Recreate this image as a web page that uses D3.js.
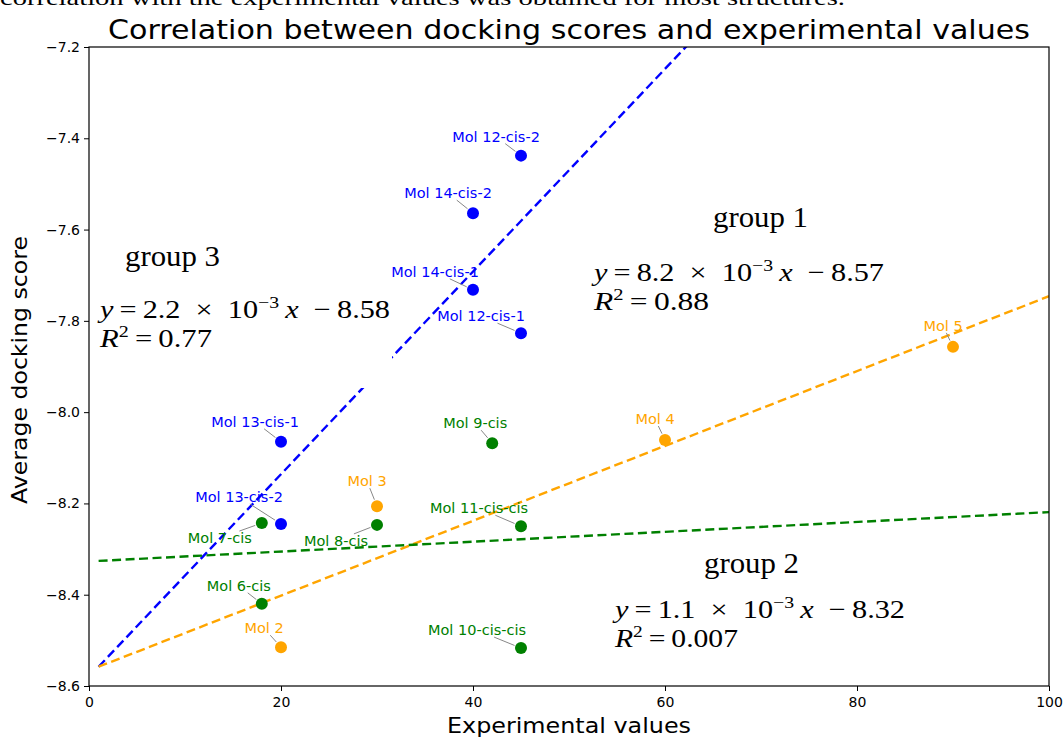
<!DOCTYPE html>
<html>
<head>
<meta charset="utf-8">
<script src="https://cdn.jsdelivr.net/npm/d3@7"></script>
<style>
  body { margin: 0; background: #fff; }
  svg { display: block; }
</style>
</head>
<body>
<div id="container"></div>
<script>
const width = 1064;
const height = 739;

// molecules
const molNames = ["Mol 12-cis-2", "Mol 14-cis-2", "Mol 14-cis-1", "Mol 12-cis-1", "Mol 13-cis-1", "Mol 13-cis-2",
    "Mol 9-cis", "Mol 7-cis", "Mol 8-cis", "Mol 11-cis-cis", "Mol 6-cis", "Mol 10-cis-cis",
    "Mol 2", "Mol 3", "Mol 4", "Mol 5"];
const expValues = [45, 40, 40, 45, 20, 20, 42, 18, 30, 45, 18, 45, 20, 30, 60, 90];
const dockScores = [-7.438, -7.564, -7.732, -7.827, -8.065, -8.245,
    -8.068, -8.243, -8.247, -8.250, -8.420, -8.517,
    -8.515, -8.206, -8.061, -7.857];
const molGroups = [3, 3, 3, 3, 3, 3, 2, 2, 2, 2, 2, 2, 1, 1, 1, 1];

// fitted lines per group
const fitGroups = [3, 1, 2];
const fitSlopes = [0.0222, 0.0082, 0.00108];
const fitIntercepts = [-8.580, -8.566, -8.327];
const fitRange = [1, 100];

// ticks
const xTicks = [0, 20, 40, 60, 80, 100];
const yTicks = [-7.2, -7.4, -7.6, -7.8, -8.0, -8.2, -8.4, -8.6];

const groupColors = { 1: "orange", 2: "green", 3: "blue" };

// label offsets from point (px), kept apart from the values
const labelDx = [-25, -25, -38, -40, -26, -42, -17, -42, -41, -42, -23, -44, -17, -10, -10, -10];
const labelDy = [-19, -20, -18, -17, -20, -27, -20, 15, 16, -18, -18, -18, -19, -25, -21, -21];

const svg = d3.select("#container").append("svg")
    .attr("width", width)
    .attr("height", height);

// caption line cut off at the top of the picture
svg.append("text")
    .attr("x", 0)
    .attr("y", 5)
    .attr("font-family", "Liberation Serif")
    .attr("font-size", 22)
    .attr("textLength", 845)
    .attr("lengthAdjust", "spacingAndGlyphs")
    .text("correlation with the experimental values was obtained for most structures.");

const x = d3.scaleLinear().domain([0, 100]).range([89, 1049]);
const y = d3.scaleLinear().domain([-8.6, -7.2]).range([686, 47]);

svg.append("defs").append("clipPath").attr("id", "plotclip")
    .append("rect")
    .attr("x", 89).attr("y", 47).attr("width", 960).attr("height", 639);

// title
svg.append("text")
    .attr("x", 569)
    .attr("y", 39)
    .attr("text-anchor", "middle")
    .attr("font-family", "DejaVu Sans")
    .attr("font-size", 27)
    .attr("textLength", 922)
    .attr("lengthAdjust", "spacingAndGlyphs")
    .text("Correlation between docking scores and experimental values");

// fit lines
const plot = svg.append("g").attr("clip-path", "url(#plotclip)");
fitGroups.forEach((g, i) => {
    const pts = fitRange.map(v => [v, fitSlopes[i] * v + fitIntercepts[i]]);
    plot.append("path")
        .attr("d", d3.line().x(d => x(d[0])).y(d => y(d[1]))(pts))
        .attr("fill", "none")
        .attr("stroke", groupColors[g])
        .attr("stroke-width", 2.4)
        .attr("stroke-dasharray", "9,4.5");
});

// white box of the pasted group 3 equation
svg.append("rect")
    .attr("x", 95).attr("y", 290).attr("width", 297).attr("height", 98)
    .attr("fill", "#fff");

// points
const mols = molNames.map((n, i) => ({
    name: n, ex: expValues[i], score: dockScores[i], group: molGroups[i],
    dx: labelDx[i], dy: labelDy[i]
}));

svg.append("g").selectAll("circle")
    .data(mols)
    .enter()
    .append("circle")
    .attr("cx", d => x(d.ex))
    .attr("cy", d => y(d.score))
    .attr("r", 6)
    .attr("fill", d => groupColors[d.group]);

const labels = svg.append("g").selectAll("g.lab")
    .data(mols)
    .enter()
    .append("g")
    .attr("class", "lab");

labels.append("text")
    .attr("x", d => x(d.ex) + d.dx)
    .attr("y", d => y(d.score) + d.dy)
    .attr("text-anchor", "middle")
    .attr("dominant-baseline", "central")
    .attr("font-family", "DejaVu Sans")
    .attr("font-size", 14.5)
    .attr("fill", d => groupColors[d.group])
    .text(d => d.name);

// connector from label box to point
labels.each(function (d) {
    const g = d3.select(this);
    const bb = g.select("text").node().getBBox();
    const cx = bb.x + bb.width / 2, cy = bb.y + bb.height / 2;
    const px = x(d.ex), py = y(d.score);
    const vx = px - cx, vy = py - cy;
    const hw = bb.width / 2 + 2, hh = bb.height / 2 - 1;
    const t0 = Math.min(Math.abs(hw / vx), Math.abs(hh / vy));
    const len = Math.hypot(vx, vy);
    const t1 = 1 - 7 / len;
    if (t1 > t0) {
        g.insert("line", "text")
            .attr("x1", cx + vx * t0).attr("y1", cy + vy * t0)
            .attr("x2", cx + vx * t1).attr("y2", cy + vy * t1)
            .attr("stroke", "#888")
            .attr("stroke-width", 1);
    }
});

// axes frame
svg.append("rect")
    .attr("x", 89).attr("y", 47).attr("width", 960).attr("height", 639)
    .attr("fill", "none").attr("stroke", "#000").attr("stroke-width", 1.2);

const xaxis = d3.axisBottom(x).tickValues(xTicks).tickSize(5).tickSizeOuter(0).tickFormat(d3.format("d"));
const gx = svg.append("g").attr("transform", "translate(0,686)").call(xaxis);
gx.select(".domain").remove();
gx.selectAll("text").attr("font-family", "DejaVu Sans").attr("font-size", 14).attr("dy", "0.95em").attr("fill", "#000");

const yaxis = d3.axisLeft(y).tickValues(yTicks).tickSize(5).tickSizeOuter(0)
    .tickFormat(d => d3.format(".1f")(d).replace("-", "\u2212"));
const gy = svg.append("g").attr("transform", "translate(89,0)").call(yaxis);
gy.select(".domain").remove();
gy.selectAll("text").attr("font-family", "DejaVu Sans").attr("font-size", 14).attr("x", -9).attr("fill", "#000");

// axis titles
svg.append("text")
    .attr("transform", "translate(27,370) rotate(-90)")
    .attr("text-anchor", "middle")
    .attr("font-family", "DejaVu Sans")
    .attr("font-size", 22)
    .attr("textLength", 268)
    .attr("lengthAdjust", "spacingAndGlyphs")
    .text("Average docking score");

svg.append("text")
    .attr("x", 569)
    .attr("y", 733)
    .attr("text-anchor", "middle")
    .attr("font-family", "DejaVu Sans")
    .attr("font-size", 22)
    .attr("textLength", 244)
    .attr("lengthAdjust", "spacingAndGlyphs")
    .text("Experimental values");

// group annotations
const groupNotes = [
    { title: "group 1", tx: 713, ty: 227, ex: 594, ey: 281, coef: "8.2", icpt: "8.57", r2: "0.88", rw: 115 },
    { title: "group 2", tx: 704, ty: 573, ex: 615, ey: 618, coef: "1.1", icpt: "8.32", r2: "0.007", rw: 123 },
    { title: "group 3", tx: 125, ty: 266, ex: 100, ey: 318, coef: "2.2", icpt: "8.58", r2: "0.77", rw: 112 }
];

const notes = svg.append("g")
    .attr("font-family", "Liberation Serif")
    .attr("fill", "#000");

groupNotes.forEach(n => {
    notes.append("text")
        .attr("x", n.tx).attr("y", n.ty)
        .attr("font-size", 29)
        .attr("textLength", 95)
        .attr("lengthAdjust", "spacingAndGlyphs")
        .text(n.title);

    const eq = notes.append("text")
        .attr("x", n.ex).attr("y", n.ey)
        .attr("font-size", 26)
        .attr("textLength", 290)
        .attr("lengthAdjust", "spacingAndGlyphs");
    eq.append("tspan").attr("font-style", "italic").text("y");
    eq.append("tspan").text("\u2009=\u2009" + n.coef + "\u2002\u00d7\u200210");
    eq.append("tspan").attr("font-size", 17).attr("dy", -10).text("\u22123");
    eq.append("tspan").attr("dy", 10).text("\u2009");
    eq.append("tspan").attr("font-style", "italic").text("x");
    eq.append("tspan").text("\u2002\u2212\u2009" + n.icpt);

    const r = notes.append("text")
        .attr("x", n.ex).attr("y", n.ey + 29)
        .attr("font-size", 26)
        .attr("textLength", n.rw)
        .attr("lengthAdjust", "spacingAndGlyphs");
    r.append("tspan").attr("font-style", "italic").text("R");
    r.append("tspan").attr("font-size", 17).attr("dy", -10).text("2");
    r.append("tspan").attr("dy", 10).text("\u2009=\u2009" + n.r2);
});
</script>
</body>
</html>
